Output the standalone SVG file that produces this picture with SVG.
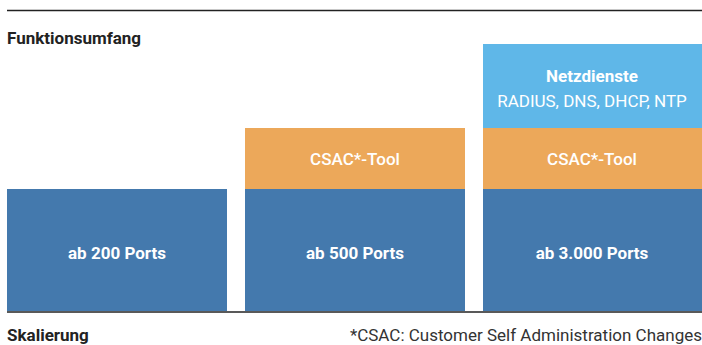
<svg xmlns="http://www.w3.org/2000/svg" width="702" height="345" viewBox="0 0 702 345">
<style>
.t{font-family:Roboto,"Liberation Sans",sans-serif;font-size:17px}
.w{fill:#fff;text-anchor:middle}
.b{font-weight:bold}
.m{font-weight:500}
.h{fill:#222;font-weight:bold;font-size:17px}
.dk{fill:#4479ad}
.or{fill:#eca85a}
.lb{fill:#5fb7e8}
.ln{stroke:#222;stroke-width:1.5}
</style>
<rect width="702" height="345" fill="#fff"/>
<g id="axes">
<line class="ln" x1="7" y1="10.5" x2="702" y2="10.5"/>
<line class="ln" x1="7" y1="312" x2="702" y2="312"/>
<text class="t h" x="7" y="44">Funktionsumfang</text>
<text class="t h" x="7" y="341">Skalierung</text>
<text class="t" x="702" y="341" text-anchor="end" fill="#333" font-size="16.4">*CSAC: Customer Self Administration Changes</text>
</g>
<g id="col1">
<rect class="dk" x="7" y="189" width="220" height="122"/>
<text class="t w b" x="117" y="259">ab 200 Ports</text>
</g>
<g id="col2">
<rect class="or" x="245" y="128" width="220" height="61"/>
<text class="t w m" x="355" y="165">CSAC*-Tool</text>
<rect class="dk" x="245" y="189" width="220" height="122"/>
<text class="t w b" x="355" y="259">ab 500 Ports</text>
</g>
<g id="col3">
<rect class="lb" x="483" y="44" width="219" height="84"/>
<text class="t w b" x="592" y="82">Netzdienste</text>
<text class="t w" x="592" y="107" font-size="17.5">RADIUS, DNS, DHCP, NTP</text>
<rect class="or" x="483" y="128" width="219" height="61"/>
<text class="t w m" x="592" y="165">CSAC*-Tool</text>
<rect class="dk" x="483" y="189" width="219" height="122"/>
<text class="t w b" x="592" y="259">ab 3.000 Ports</text>
</g>
<g id="connectors"/>
</svg>
